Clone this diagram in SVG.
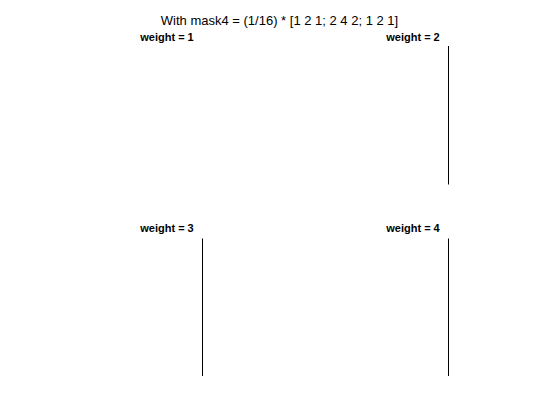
<svg xmlns="http://www.w3.org/2000/svg" width="560" height="420" viewBox="0 0 560 420">
<style>
.t{font-family:"Liberation Sans",Arial,sans-serif;font-size:13px;fill:#000;text-anchor:middle}
.s{font-family:"Liberation Sans",Arial,sans-serif;font-size:11px;font-weight:bold;fill:#000;text-anchor:middle}
.ln{stroke:#000;stroke-width:1;fill:none}
</style>
<rect width="560" height="420" fill="#fff"/>
<text class="t" x="279.5" y="25">With mask4 = (1/16) * [1 2 1; 2 4 2; 1 2 1]</text>
<g id="plot1"><text class="s" x="167" y="41">weight = 1</text></g>
<g id="plot2"><text class="s" x="413" y="41">weight = 2</text><line class="ln" x1="448.5" y1="46" x2="448.5" y2="184.5"/></g>
<g id="plot3"><text class="s" x="167" y="232">weight = 3</text><line class="ln" x1="202.5" y1="238.5" x2="202.5" y2="376"/></g>
<g id="plot4"><text class="s" x="413" y="232">weight = 4</text><line class="ln" x1="448.5" y1="238.5" x2="448.5" y2="376"/></g>
</svg>
